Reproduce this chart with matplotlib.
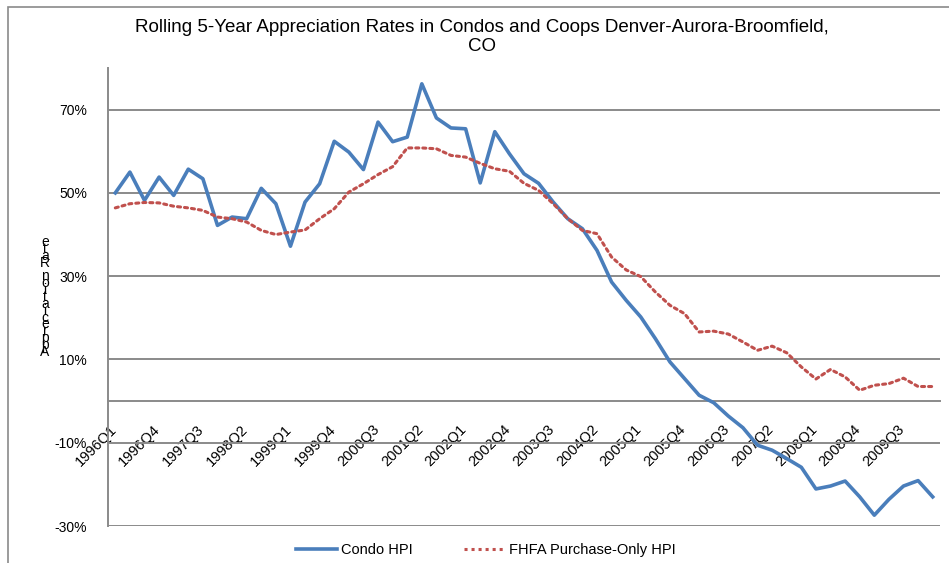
import matplotlib.pyplot as plt
from matplotlib.patches import Rectangle
from matplotlib.lines import Line2D
from matplotlib.transforms import ScaledTranslation

plt.rcParams['font.family'] = ['Liberation Sans', 'DejaVu Sans']

# quarterly categories 1996Q1 .. 2010Q1
quarters = [f"{y}Q{q}" for y in range(1996, 2011) for q in range(1, 5)][:57]

condo_hpi = [50.0, 55.0, 48.2, 53.8, 49.4, 55.7, 53.4, 42.2, 44.2, 43.8,
             51.1, 47.4, 37.2, 47.8, 52.2, 62.4, 59.8, 55.6, 67.0, 62.3,
             63.4, 76.2, 68.0, 65.6, 65.4, 52.4, 64.7, 59.4, 54.6, 52.3,
             47.8, 43.8, 41.4, 36.2, 28.6, 24.2, 20.2, 15.0, 9.4, 5.4,
             1.4, -0.4, -3.6, -6.4, -10.6, -11.8, -13.8, -15.9, -21.1, -20.4,
             -19.2, -23.0, -27.4, -23.6, -20.4, -19.1, -23.0]
fhfa_hpi = [46.4, 47.4, 47.7, 47.6, 46.8, 46.4, 45.8, 44.2, 43.8, 43.0,
            41.0, 40.0, 40.6, 41.1, 43.8, 46.2, 50.2, 52.2, 54.4, 56.3,
            60.8, 60.8, 60.6, 59.0, 58.6, 57.1, 55.8, 55.2, 52.3, 50.6,
            47.4, 43.8, 41.0, 40.2, 34.6, 31.5, 29.9, 26.2, 23.0, 21.0,
            16.6, 16.8, 16.1, 14.2, 12.2, 13.2, 11.6, 8.2, 5.3, 7.6,
            5.8, 2.6, 3.8, 4.2, 5.5, 3.5, 3.5]

y_ticks = [-30, -10, 10, 30, 50, 70]
y_labels = ["-30%", "-10%", "10%", "30%", "50%", "70%"]

title = "Rolling 5-Year Appreciation Rates in Condos and Coops Denver-Aurora-Broomfield,\nCO"
ylabel = "Appreciation Rate"

BLUE = "#4a7ebb"
RED = "#c0504d"
GRAY = "#8a8a8a"

W, H = 949, 563
fig = plt.figure(figsize=(W / 100, H / 100), dpi=100)
ax = fig.add_axes([108 / W, 1 - 526 / H, 832 / W, 458 / H])

# category axis crosses the value axis at 0 (set before styling the tick labels)
for s in ("top", "right"):
    ax.spines[s].set_visible(False)
ax.spines["bottom"].set_position(("data", 0))
ax.spines["bottom"].set_color(GRAY)
ax.spines["bottom"].set_linewidth(1.4)
ax.spines["left"].set_color(GRAY)
ax.spines["left"].set_linewidth(1.4)

x = list(range(len(quarters)))
ax.plot(x, condo_hpi, color=BLUE, lw=2.6, solid_joinstyle="round", zorder=3)
ax.plot(x, fhfa_hpi, color=RED, lw=2.2, linestyle=(0, (1, 1.3)), dash_capstyle="round", zorder=3)

ax.set_xlim(-0.5, len(quarters) - 0.5)
ax.set_ylim(-30, 80)
ax.set_yticks(y_ticks)
ax.set_yticklabels(y_labels, fontsize=10)
ax.yaxis.grid(True, color=GRAY, lw=1.4)
ax.set_axisbelow(True)

ax.set_xticks(x[::3])
ax.set_xticklabels(quarters[::3], rotation=45, ha="right", va="top",
                   rotation_mode="anchor", fontsize=10.5)
ax.tick_params(axis="both", length=0)
ax.tick_params(axis="y", pad=15)
ax.tick_params(axis="x", pad=15)
shift = ScaledTranslation(-6 / 100, 0, fig.dpi_scale_trans)
for lab in ax.get_xticklabels():
    lab.set_transform(lab.get_transform() + shift)

fig.text(482 / W, 1 - 37 / H, title, ha="center", va="center", fontsize=13.5, linespacing=1.1)

# stacked upright letters of the axis title, as in the original
fig.text(45 / W, 1 - 297 / H, "\n".join(reversed(ylabel)), ha="center", va="center",
         fontsize=10, linespacing=0.35)

handles = [Line2D([], [], color=BLUE, lw=2.6),
           Line2D([], [], color=RED, lw=2.2, linestyle=(0, (1, 1.3)))]
fig.legend(handles, ["Condo HPI", "FHFA Purchase-Only HPI"], loc="center",
           bbox_to_anchor=(486 / W, 1 - 550 / H), ncol=2, frameon=False,
           fontsize=10.5, handlelength=2.8, columnspacing=3.5, handletextpad=0.3)

fig.patches.append(Rectangle((8 / W, -0.1), 1.2, 1.1 - 7 / H, transform=fig.transFigure,
                             fill=False, edgecolor=GRAY, lw=1.2))

fig.savefig("out.png", dpi=100)
